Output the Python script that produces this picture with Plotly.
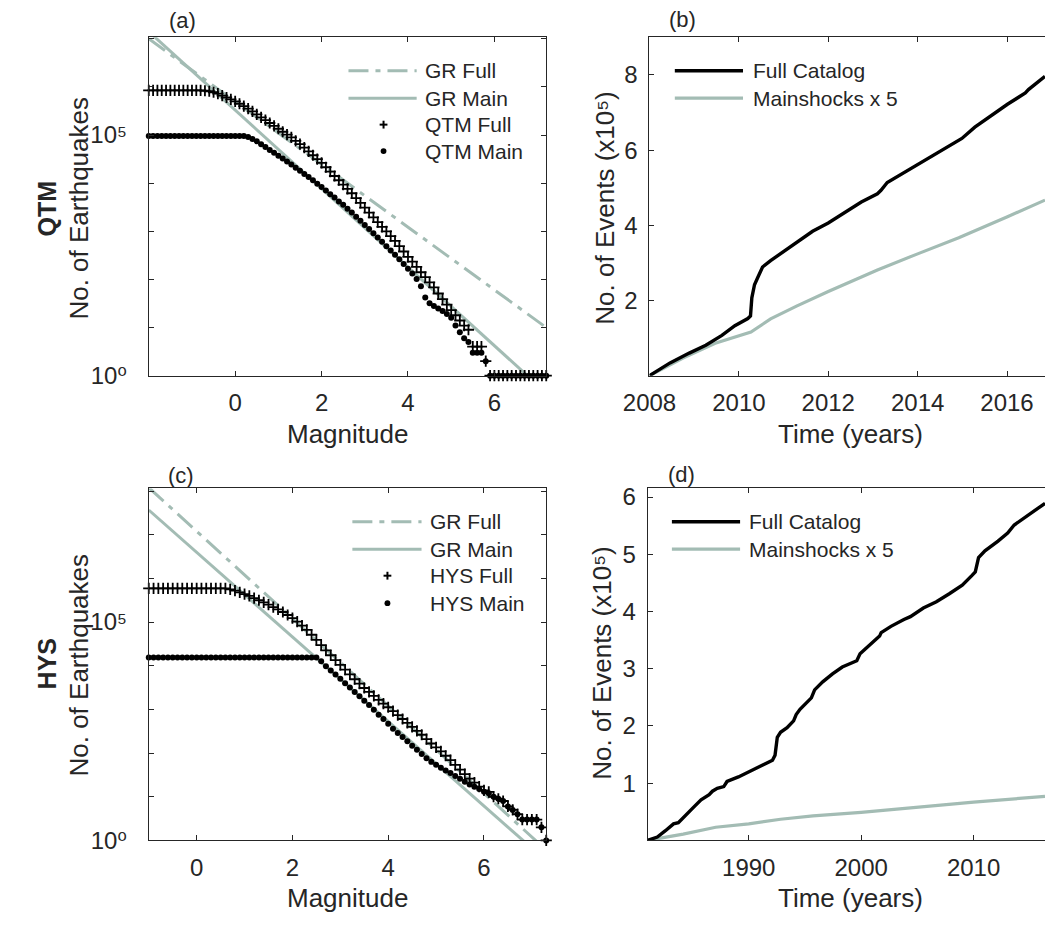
import plotly.graph_objects as go

W, H = 1045, 926
FONT = "Liberation Sans, Arial, Helvetica, DejaVu Sans, sans-serif"
TXT = "#262626"
AX = "#262626"
GRAY = "#a3bcb4"

# ---------------- Panel (a): QTM magnitude-frequency ----------------
MAG_A = [-2.0, -1.9, -1.8, -1.7, -1.6, -1.5, -1.4, -1.3, -1.2, -1.1, -1.0, -0.9, -0.8,
         -0.7, -0.6, -0.5, -0.4, -0.3, -0.2, -0.1,
         0.0, 0.1, 0.2, 0.3, 0.4, 0.5, 0.6, 0.7, 0.8, 0.9,
         1.0, 1.1, 1.2, 1.3, 1.4, 1.5, 1.6, 1.7, 1.8, 1.9,
         2.0, 2.1, 2.2, 2.3, 2.4, 2.5, 2.6, 2.7, 2.8, 2.9,
         3.0, 3.1, 3.2, 3.3, 3.4, 3.5, 3.6, 3.7, 3.8, 3.9,
         4.0, 4.1, 4.2, 4.3, 4.4, 4.5, 4.6, 4.7, 4.8, 4.9,
         5.0, 5.1, 5.2, 5.3, 5.4, 5.5, 5.6, 5.7, 5.8, 5.9,
         6.0, 6.1, 6.2, 6.3, 6.4, 6.5, 6.6, 6.7, 6.8, 6.9,
         7.0, 7.1, 7.2]
QTM_FULL = [851000, 851000, 851000, 851000, 851000, 851000, 851000, 851000, 851000, 851000,
            851000, 851000, 851000,
            832000, 813000, 776000, 724000, 661000, 603000, 550000,
            501000, 447000, 398000, 355000, 309000, 269000, 234000, 204000, 178000, 155000,
            135000, 117000, 102000, 89100, 75900, 64600, 55000, 45700, 38000, 31600,
            26300, 21400, 17400, 14100, 11500, 9330, 7590, 6170, 4900, 3890,
            3090, 2450, 1950, 1550, 1230, 1000, 794, 631, 490, 380,
            295, 234, 182, 141, 112, 87, 68, 51, 39, 30,
            23, 18, 14, 11, 9, 4, 4, 4, 2, 1,
            1, 1, 1, 1, 1, 1, 1, 1, 1, 1,
            1, 1, 1]
QTM_MAIN = [95500, 95500, 95500, 95500, 95500, 95500, 95500, 95500, 95500, 95500,
            95500, 95500, 95500, 95500, 95500, 95500, 95500, 95500, 95500, 95500,
            95500, 95500, 95500, 91200, 83200, 74100, 64600, 56200, 49000, 42700,
            37200, 32400, 28200, 24500, 20900, 18200, 15500, 13500, 11500, 9770,
            8320, 7080, 5890, 5010, 4170, 3550, 2950, 2450, 2000, 1660,
            1350, 1120, 912, 741, 603, 490, 398, 324, 263, 209,
            166, 132, 102, 72, 42, 32, 28, 25, 22, 19,
            16, 11, 8, 6, 5, 3, 3, 3, 2, 1,
            1, 1, 1, 1, 1, 1, 1, 1, 1, 1,
            1, 1, 1]
GR_A_MAG = [-2.0, 7.2]
GR_A_FULL = [1.0e7, 10.0]
GR_A_MAIN = [1.41e7, 0.44]

# ---------------- Panel (c): HYS magnitude-frequency ----------------
MAG_C = [-1.0, -0.9, -0.8, -0.7, -0.6, -0.5, -0.4, -0.3, -0.2, -0.1,
         0.0, 0.1, 0.2, 0.3, 0.4, 0.5, 0.6, 0.7, 0.8, 0.9,
         1.0, 1.1, 1.2, 1.3, 1.4, 1.5, 1.6, 1.7, 1.8, 1.9,
         2.0, 2.1, 2.2, 2.3, 2.4, 2.5, 2.6, 2.7, 2.8, 2.9,
         3.0, 3.1, 3.2, 3.3, 3.4, 3.5, 3.6, 3.7, 3.8, 3.9,
         4.0, 4.1, 4.2, 4.3, 4.4, 4.5, 4.6, 4.7, 4.8, 4.9,
         5.0, 5.1, 5.2, 5.3, 5.4, 5.5, 5.6, 5.7, 5.8, 5.9,
         6.0, 6.1, 6.2, 6.3, 6.4, 6.5, 6.6, 6.7, 6.8, 6.9,
         7.0, 7.1, 7.2, 7.3]
HYS_FULL = [589000, 589000, 589000, 589000, 589000, 589000, 589000, 589000, 589000, 589000,
            589000, 589000, 589000, 589000, 589000, 589000, 589000, 562000, 525000, 479000,
            437000, 398000, 355000, 316000, 282000, 251000, 219000, 195000, 170000, 145000,
            123000, 102000, 83200, 66100, 51300, 38900, 29500, 22400, 17400, 13500,
            10500, 8130, 6310, 4900, 3890, 3090, 2510, 2040, 1660, 1350,
            1120, 912, 741, 603, 490, 398, 324, 263, 209, 166,
            135, 110, 87, 69, 54, 42, 33, 26, 21, 17,
            14, 13, 10, 9, 8, 6, 5, 4, 3, 3,
            3, 3, 2, 1]
HYS_MAIN = [15500, 15500, 15500, 15500, 15500, 15500, 15500, 15500, 15500, 15500,
            15500, 15500, 15500, 15500, 15500, 15500, 15500, 15500, 15500, 15500,
            15500, 15500, 15500, 15500, 15500, 15500, 15500, 15500, 15500, 15500,
            15500, 15500, 15500, 15500, 15500, 15500, 12600, 9770, 7760, 6310,
            5010, 3980, 3160, 2510, 2000, 1580, 1260, 977, 759, 603,
            468, 363, 288, 234, 186, 148, 120, 95, 76, 63,
            54, 46, 40, 35, 30, 26, 22, 19, 17, 15,
            13, 12, 10, 9, 8, 6, 5, 4, 3, 3,
            3, 3, 2, 1]
GR_C_MAG = [-1.0, 7.3]
GR_C_FULL = [1.2e8, 0.6]
GR_C_MAIN = [3.67e7, 0.34]

# ---------------- Panel (b): QTM cumulative events (x1e5) ----------------
YEAR_B_FULL = [2008.0, 2008.46, 2008.89, 2009.26, 2009.62, 2009.91, 2010.2, 2010.26, 2010.29,
               2010.35, 2010.43, 2010.53, 2010.71, 2010.93, 2011.36, 2011.65, 2012.0, 2012.23,
               2012.6, 2012.74, 2013.1, 2013.18, 2013.32, 2013.69, 2014.0, 2014.27, 2014.56,
               2014.99, 2015.28, 2015.65, 2016.01, 2016.41, 2016.48, 2016.85]
FULL_B = [0.0, 0.34, 0.60, 0.81, 1.07, 1.33, 1.52, 1.59, 2.07,
          2.42, 2.63, 2.89, 3.06, 3.24, 3.58, 3.84, 4.06, 4.23,
          4.49, 4.62, 4.84, 4.93, 5.14, 5.40, 5.62, 5.79, 6.01,
          6.31, 6.61, 6.92, 7.22, 7.52, 7.61, 7.96]
YEAR_B_MAIN = [2008.0, 2008.75, 2009.47, 2010.27, 2010.71, 2011.29, 2012.0, 2013.1, 2014.0,
               2014.92, 2016.01, 2016.37, 2016.85]
MAIN_B = [0.0, 0.47, 0.86, 1.16, 1.51, 1.85, 2.24, 2.81, 3.24, 3.67, 4.23, 4.41, 4.67]

# ---------------- Panel (d): HYS cumulative events (x1e5) ----------------
YEAR_D_FULL = [1981.0, 1981.87, 1982.59, 1983.31, 1983.74, 1984.17, 1985.04, 1985.76, 1986.48,
               1986.77, 1987.2, 1987.78, 1988.07, 1989.08, 1990.0, 1990.52, 1991.39, 1992.11,
               1992.34, 1992.54, 1992.83, 1993.41, 1993.99, 1994.22, 1994.56, 1995.29, 1995.57,
               1995.86, 1996.58, 1997.45, 1998.32, 1999.61, 1999.9, 2000.34, 2001.2, 2001.64,
               2001.78, 2002.65, 2003.8, 2004.38, 2005.53, 2006.69, 2007.84, 2008.99, 2009.86,
               2010.15, 2010.44, 2011.01, 2012.17, 2013.03, 2013.61, 2014.48, 2015.34, 2016.35]
FULL_D = [0.0, 0.06, 0.17, 0.29, 0.31, 0.40, 0.57, 0.71, 0.80,
          0.86, 0.91, 0.94, 1.03, 1.11, 1.20, 1.26, 1.34, 1.40,
          1.49, 1.80, 1.89, 1.97, 2.09, 2.20, 2.29, 2.43, 2.49,
          2.63, 2.77, 2.91, 3.03, 3.14, 3.26, 3.34, 3.49, 3.57,
          3.63, 3.74, 3.86, 3.91, 4.06, 4.17, 4.31, 4.46, 4.63,
          4.69, 4.94, 5.06, 5.23, 5.37, 5.51, 5.63, 5.74, 5.89]
YEAR_D_MAIN = [1981.0, 1984.17, 1987.06, 1990.0, 1992.83, 1995.72, 2000.0, 2004.38, 2010.0, 2016.35]
MAIN_D = [0.0, 0.11, 0.23, 0.29, 0.37, 0.43, 0.49, 0.57, 0.67, 0.77]

# tick labels
LOG_MAJOR_VALS = [1, 1e5]
LOG_MAJOR_TEXT = ["10\u2070", "10\u2075"]
LOG_MINOR_A = [10, 100, 1e3, 1e4, 1e6, 1e7]
LOG_MINOR_C = [10, 100, 1e3, 1e4, 1e6, 1e7, 1e8]


def px(x):
    return x / W


def py(y):
    return 1 - y / H


fig = go.Figure()

DASHDOT = "20px,7px,5px,7px"


def mf_panel(xa, ya, mag, full, main, grm, grf, grmain):
    fig.add_trace(go.Scatter(x=grm, y=grf, mode="lines", xaxis=xa, yaxis=ya,
                             line=dict(color=GRAY, width=3, dash=DASHDOT), hoverinfo="skip"))
    fig.add_trace(go.Scatter(x=grm, y=grmain, mode="lines", xaxis=xa, yaxis=ya,
                             line=dict(color=GRAY, width=3), hoverinfo="skip"))
    fig.add_trace(go.Scatter(x=mag, y=full, mode="markers", xaxis=xa, yaxis=ya, cliponaxis=False,
                             marker=dict(symbol="cross-thin", size=8, color="black",
                                         line=dict(width=1.8, color="black"))))
    fig.add_trace(go.Scatter(x=mag, y=main, mode="markers", xaxis=xa, yaxis=ya, cliponaxis=False,
                             marker=dict(symbol="circle", size=6, color="black", line=dict(width=0))))


mf_panel("x", "y", MAG_A, QTM_FULL, QTM_MAIN, GR_A_MAG, GR_A_FULL, GR_A_MAIN)
mf_panel("x3", "y3", MAG_C, HYS_FULL, HYS_MAIN, GR_C_MAG, GR_C_FULL, GR_C_MAIN)

for xa, ya, yf, vf, ym, vm in [("x2", "y2", YEAR_B_FULL, FULL_B, YEAR_B_MAIN, MAIN_B),
                               ("x4", "y4", YEAR_D_FULL, FULL_D, YEAR_D_MAIN, MAIN_D)]:
    fig.add_trace(go.Scatter(x=ym, y=vm, mode="lines", xaxis=xa, yaxis=ya,
                             line=dict(color=GRAY, width=3.2)))
    fig.add_trace(go.Scatter(x=yf, y=vf, mode="lines", xaxis=xa, yaxis=ya,
                             line=dict(color="black", width=3.4)))


def axis(**kw):
    d = dict(showline=True, linecolor=AX, linewidth=1, ticks="inside", ticklen=5, tickwidth=1,
             tickcolor=AX, showgrid=False, zeroline=False,
             tickfont=dict(size=24, color=TXT, family=FONT))
    d.update(kw)
    return d


def minor(vals):
    return dict(tickmode="array", tickvals=vals, ticks="inside", ticklen=5, tickwidth=1,
                tickcolor=AX, showgrid=False)


yA = (py(378), py(33))
yC = (py(852), py(493))

fig.update_layout(
    width=W, height=H, margin=dict(l=0, r=0, t=0, b=0),
    paper_bgcolor="white", plot_bgcolor="white", showlegend=False,
    font=dict(family=FONT, color=TXT),
    xaxis=axis(domain=[px(125), px(533)], anchor="y", range=[-2.0, 7.2], mirror="ticks",
               tickvals=[0, 2, 4, 6], ticklabelstandoff=6),
    yaxis=axis(domain=list(yA), anchor="x", type="log", range=[0, 7.03], mirror="ticks",
               tickvals=LOG_MAJOR_VALS, ticktext=LOG_MAJOR_TEXT, ticklabelstandoff=16,
               minor=minor(LOG_MINOR_A)),
    xaxis2=axis(domain=[px(639), 1.0], anchor="y2", range=[2008.0, 2016.85], mirror="ticks",
                tickvals=[2008, 2010, 2012, 2014, 2016], ticklabelstandoff=6),
    yaxis2=axis(domain=list(yA), anchor="x2", range=[0, 9], tickvals=[2, 4, 6, 8],
                ticklabelstandoff=6),
    xaxis3=axis(domain=[px(125), px(533)], anchor="y3", range=[-1.0, 7.3], mirror="ticks",
                tickvals=[0, 2, 4, 6], ticklabelstandoff=6),
    yaxis3=axis(domain=list(yC), anchor="x3", type="log", range=[0, 8.06], mirror="ticks",
                tickvals=LOG_MAJOR_VALS, ticktext=LOG_MAJOR_TEXT, ticklabelstandoff=16,
                minor=minor(LOG_MINOR_C)),
    xaxis4=axis(domain=[px(637), 1.0], anchor="y4", range=[1981.0, 2016.35], mirror="ticks",
                tickvals=[1990, 2000, 2010], ticklabelstandoff=6),
    yaxis4=axis(domain=list(yC), anchor="x4", range=[0, 6.15], tickvals=[1, 2, 3, 4, 5, 6],
                ticklabelstandoff=6),
)

annotations = []


def ann(text, x, y, size, angle=0, xanchor="center"):
    annotations.append(dict(text=text, x=px(x), y=py(y), xref="paper", yref="paper",
                            showarrow=False, textangle=angle, xanchor=xanchor, yanchor="middle",
                            font=dict(size=size, color=TXT, family=FONT)))


# panel letters
ann("(a)", 160, 16, 22)
ann("(b)", 673, 15, 22)
ann("(c)", 158, 480, 22)
ann("(d)", 672, 479, 22)
# axis titles
ann("<b>QTM</b>", 20, 207, 25, -90)
ann("No. of Earthquakes", 53, 207, 26, -90)
ann("<b>HYS</b>", 20, 672, 25, -90)
ann("No. of Earthquakes", 53, 673, 26, -90)
ann("No. of Events (x10\u2075)", 593, 207, 26, -90)
ann("No. of Events (x10\u2075)", 590, 671, 26, -90)
ann("Magnitude", 329, 437, 26)
ann("Magnitude", 329, 911, 26)
ann("Time (years)", 845, 437, 26)
ann("Time (years)", 845, 911, 26)

shapes = []


def leg_line(x0, x1, y, color, dash=None, width=3):
    ln = dict(color=color, width=width)
    if dash:
        ln["dash"] = dash
    shapes.append(dict(type="line", xref="paper", yref="paper", x0=px(x0), x1=px(x1),
                       y0=py(y), y1=py(y), line=ln))


def leg_plus(x, y):
    shapes.append(dict(type="line", xref="paper", yref="paper", x0=px(x - 4), x1=px(x + 4),
                       y0=py(y), y1=py(y), line=dict(color="black", width=2)))
    shapes.append(dict(type="line", xref="paper", yref="paper", x0=px(x), x1=px(x),
                       y0=py(y - 4), y1=py(y + 4), line=dict(color="black", width=2)))


def leg_dot(x, y):
    shapes.append(dict(type="circle", xref="paper", yref="paper", x0=px(x - 3), x1=px(x + 3),
                       y0=py(y + 3), y1=py(y - 3), fillcolor="black", line=dict(width=0)))


# legend (a)
rows_a = [67, 95, 122, 149]
leg_line(330, 400, rows_a[0], GRAY, DASHDOT)
leg_line(330, 400, rows_a[1], GRAY)
leg_plus(366, rows_a[2])
leg_dot(366, rows_a[3])
for t, r in zip(["GR Full", "GR Main", "QTM Full", "QTM Main"], rows_a):
    ann(t, 407, r, 21, xanchor="left")

# legend (c)
rows_c = [527, 555, 582, 610]
leg_line(334, 405, rows_c[0], GRAY, DASHDOT)
leg_line(334, 405, rows_c[1], GRAY)
leg_plus(370, rows_c[2])
leg_dot(370, rows_c[3])
for t, r in zip(["GR Full", "GR Main", "HYS Full", "HYS Main"], rows_c):
    ann(t, 412, r, 21, xanchor="left")

# legend (b)
leg_line(665, 735, 67, "black", width=3.4)
leg_line(665, 735, 95, GRAY, width=3.2)
ann("Full Catalog", 743, 67, 21, xanchor="left")
ann("Mainshocks x 5", 743, 95, 21, xanchor="left")

# legend (d)
leg_line(662, 732, 527, "black", width=3.4)
leg_line(662, 732, 555, GRAY, width=3.2)
ann("Full Catalog", 739, 527, 21, xanchor="left")
ann("Mainshocks x 5", 739, 555, 21, xanchor="left")

fig.update_layout(annotations=annotations, shapes=shapes)

fig.write_html("out.html")
